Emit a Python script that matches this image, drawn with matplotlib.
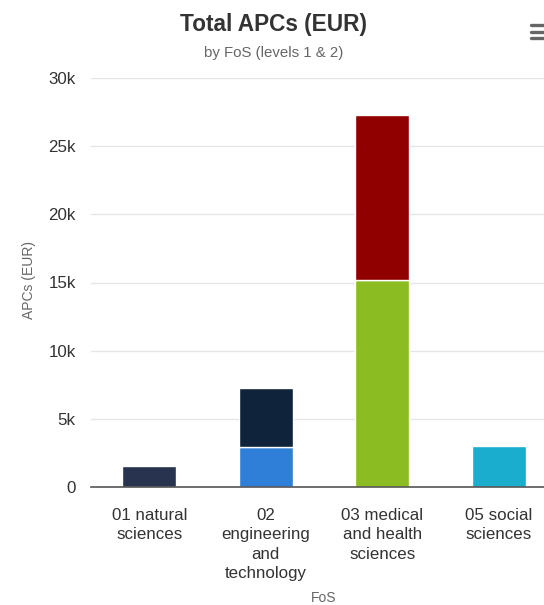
import matplotlib
matplotlib.use("Agg")
import matplotlib.pyplot as plt
from matplotlib.ticker import FixedLocator, FuncFormatter

plt.rcParams['font.family'] = ['Liberation Sans', 'DejaVu Sans']

# Fields of science (x categories)
categories = ["01 natural\nsciences", "02\nengineering\nand\ntechnology",
              "03 medical\nand health\nsciences", "05 social\nsciences"]

# Stacked segments: (category index, value in EUR, colour), bottom to top
seg_category = [0, 1, 1, 2, 2, 3]
seg_values = [1520, 2900, 4350, 15200, 12100, 3000]
seg_colors = ["#27334f", "#2f7ed8", "#0f233b", "#8bbc21", "#910000", "#1aadce"]

y_ticks = [0, 5000, 10000, 15000, 20000, 25000, 30000]

W, H = 544, 605
fig = plt.figure(figsize=(W / 100, H / 100), dpi=100)
fig.patch.set_facecolor("white")

left_px, right_px, top_px, bottom_px = 91, 557, 78, 487
ax = fig.add_axes([left_px / W, 1 - bottom_px / H,
                   (right_px - left_px) / W, (bottom_px - top_px) / H])

bottoms = [0.0] * len(categories)
for c, v, col in zip(seg_category, seg_values, seg_colors):
    ax.bar(c, v, bottom=bottoms[c], width=0.465, color=col,
           edgecolor="white", linewidth=1.0, zorder=3)
    bottoms[c] += v

ax.set_xlim(-0.5, len(categories) - 0.5)
ax.set_ylim(0, 30000)

ax.yaxis.set_major_locator(FixedLocator(y_ticks))
ax.yaxis.set_major_formatter(FuncFormatter(
    lambda v, p: "0" if v == 0 else f"{int(v / 1000)}k"))
ax.grid(axis="y", color="#e6e6e6", linewidth=1.0, zorder=0)
ax.set_axisbelow(True)

ax.set_xticks(range(len(categories)))
ax.set_xticklabels(categories, linespacing=1.37)
ax.tick_params(axis="x", length=0, pad=15, labelsize=12.2, labelcolor="#333333")
ax.tick_params(axis="y", length=0, pad=11, labelsize=12.2, labelcolor="#333333")

for s in ["top", "right", "left"]:
    ax.spines[s].set_visible(False)
ax.spines["bottom"].set_color("#555555")
ax.spines["bottom"].set_linewidth(1.2)
ax.spines["bottom"].set_zorder(4)

# Titles
fig.text(274 / W, 1 - 25 / H, "Total APCs (EUR)", ha="center", va="center",
         fontsize=16.3, fontweight="bold", color="#333333")
fig.text(274 / W, 1 - 53 / H, "by FoS (levels 1 & 2)", ha="center", va="center",
         fontsize=10.8, color="#666666")

# Axis titles
fig.text(29 / W, 1 - 280 / H, "APCs (EUR)", ha="center", va="center",
         rotation=90, fontsize=10, color="#666666")
fig.text(324 / W, 1 - 598 / H, "FoS", ha="center", va="center",
         fontsize=10, color="#666666")

# Context menu button
for yy in (25, 32, 38):
    fig.add_artist(plt.Line2D([531 / W, 548 / W], [1 - yy / H, 1 - yy / H],
                              color="#666666", linewidth=2.4,
                              solid_capstyle="round"))

fig.savefig("out.png", dpi=100, facecolor="white")
